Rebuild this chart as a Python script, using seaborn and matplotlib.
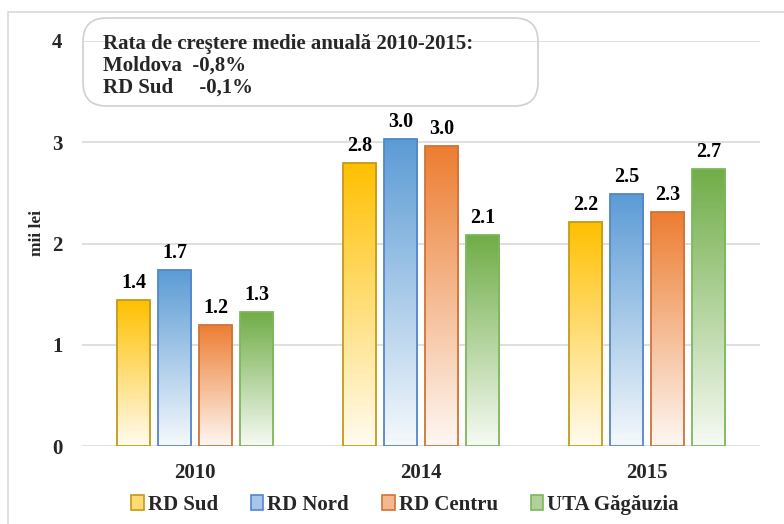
import numpy as np
import pandas as pd
import matplotlib
matplotlib.use("Agg")
import matplotlib.pyplot as plt
import seaborn as sns
from matplotlib.patches import Patch, FancyBboxPatch, Rectangle
from matplotlib.colors import to_rgb

years = ["2010", "2014", "2015"]
regions = ["RD Sud", "RD Nord", "RD Centru", "UTA Găgăuzia"]
rd_sud = [1.44, 2.80, 2.21]
rd_nord = [1.74, 3.03, 2.49]
rd_centru = [1.20, 2.96, 2.31]
uta_gagauzia = [1.32, 2.08, 2.74]
yticks = [0, 1, 2, 3, 4]
ylabel = "mii lei"
note_lines = ["Rata de creştere medie anuală 2010-2015:",
              "Moldova  -0,8%",
              "RD Sud     -0,1%"]

top_colors = ["#FFC000", "#5B9BD5", "#ED7D31", "#70AD47"]
edge_colors = ["#C49A1A", "#5585CC", "#CF7438", "#7CB85A"]

df = pd.DataFrame({
    "year": years * 4,
    "region": np.repeat(regions, 3),
    "value": rd_sud + rd_nord + rd_centru + uta_gagauzia,
})

sns.set_theme(style="white")
plt.rcParams["font.family"] = ["Liberation Serif", "DejaVu Serif"]
plt.rcParams["font.weight"] = "bold"

fig = plt.figure(figsize=(7.84, 5.24), dpi=100)
ax = fig.add_axes([82/784, 1-446/524, (760-82)/784, (446-41)/524])

sns.barplot(data=df, x="year", y="value", hue="region", hue_order=regions,
            order=years, palette=top_colors, width=0.726, gap=0.194,
            legend=False, ax=ax, zorder=3)

ax.set_xlim(-0.5, 2.5)
ax.set_ylim(0, 4)

def mix(c, t):
    c = np.array(to_rgb(c))
    return c * t + (1 - t)

for i, cont in enumerate(ax.containers):
    top = np.array(to_rgb(top_colors[i]))
    bottom = mix(top_colors[i], 0.06)
    n = 256
    tt = np.linspace(0, 1, n)[:, None]
    grad = (top[None, :] * (1 - tt) + bottom[None, :] * tt)[:, None, :]
    for bar in cont:
        x0, w, h = bar.get_x(), bar.get_width(), bar.get_height()
        im = ax.imshow(grad, extent=[x0, x0 + w, 0, h], origin="upper",
                       aspect="auto", zorder=2.5, interpolation="bilinear")
        im.set_clip_path(bar)
        bar.set_facecolor("none")
        bar.set_edgecolor(edge_colors[i])
        bar.set_linewidth(1.3)
    ax.bar_label(cont, labels=[f"{b.get_height():.1f}" for b in cont],
                 padding=5, fontsize=14.5, fontweight="bold", color="black")

ax.set_xlim(-0.5, 2.5)
ax.set_ylim(0, 4)
ax.set_yticks(yticks)
ax.yaxis.grid(True, color="#D9D9D9", linewidth=1.2)
ax.set_axisbelow(True)
for s in ax.spines.values():
    s.set_visible(False)
ax.tick_params(axis="both", length=0, labelsize=15)
ax.tick_params(axis="y", pad=14)
ax.tick_params(axis="x", pad=12)
for lab in ax.get_xticklabels() + ax.get_yticklabels():
    lab.set_fontweight("bold")
ax.set_xlabel("")
ax.set_ylabel(ylabel, fontsize=12.5, fontweight="bold")
ax.yaxis.set_label_coords(-0.066, 0.526)
ax.yaxis.label.set_va("center")

# figure border
fig.patches.append(Rectangle((8/784, -0.1), 1.2, 0.1 + 1 - 12/524,
                             transform=fig.transFigure, fill=False,
                             edgecolor="#D9D9D9", linewidth=1.2))

# annotation box (transparent, gridline shows through)
box = FancyBboxPatch((83/784, 1-106/524), (538-83)/784, (106-18)/524,
                     boxstyle="round,pad=0,rounding_size=0.03",
                     transform=fig.transFigure, facecolor="none",
                     edgecolor="#D0D0D0", linewidth=1.2, zorder=5,
                     mutation_aspect=784/524)
fig.patches.append(box)
fig.text(103/784, 1-66/524, "\n".join(note_lines), fontsize=15,
         fontweight="bold", va="center", ha="left", linespacing=1.12,
         zorder=6)

handles = [Patch(facecolor=mix(c, 0.55), edgecolor=e, linewidth=1.2)
           for c, e in zip(top_colors, edge_colors)]
fig.legend(handles, regions, loc="center", bbox_to_anchor=(405/784, 1-505/524),
           ncol=4, frameon=False, handlelength=0.6,
           handleheight=0.7, handletextpad=0.2, columnspacing=1.58,
           prop={"weight": "bold", "size": 15})

fig.savefig("out.png", dpi=100)
